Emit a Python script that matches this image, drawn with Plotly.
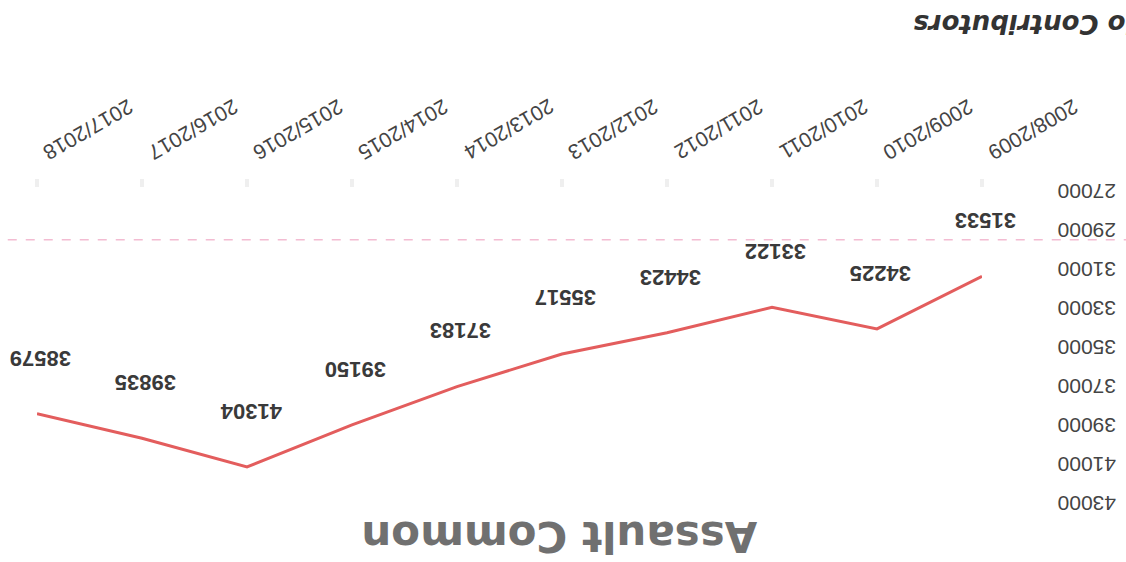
import plotly.graph_objects as go

# ---- data (chart is shown rotated 180 degrees) ----
seasons = ["2008/2009", "2009/2010", "2010/2011", "2011/2012", "2012/2013",
           "2013/2014", "2014/2015", "2015/2016", "2016/2017", "2017/2018"]
contributors = [31533, 34225, 33122, 34423, 35517, 37183, 39150, 41304, 39835, 38579]
y_ticks = [27000, 29000, 31000, 33000, 35000, 37000, 39000, 41000, 43000]
title_text = "Assault Common"
axis_title_text = "No Contributors"

LINE_COLOR = "#e35d5d"
TEXT_COLOR = "#3a3a3a"

fig = go.Figure()
fig.add_trace(go.Scatter(
    x=seasons, y=contributors, mode="lines",
    line=dict(color=LINE_COLOR, width=3),
    hoverinfo="skip", showlegend=False,
))

annotations = []

# data labels (upside down)
for s, v in zip(seasons, contributors):
    annotations.append(dict(
        x=s, y=v, xref="x", yref="y", text=str(v), showarrow=False,
        textangle=180, xanchor="center", yanchor="middle",
        xshift=4, yshift=56,
        font=dict(family="Liberation Sans, Arial", size=22, color=TEXT_COLOR, weight="bold"),
    ))

# category labels (upside down, slanted)
for s in seasons:
    annotations.append(dict(
        x=s, y=1, xref="x", yref="paper", text=s, showarrow=False,
        textangle=150, xanchor="center", yanchor="middle",
        xshift=52, yshift=58,
        font=dict(family="Liberation Sans, Arial", size=21, color="#444444"),
    ))

# value-axis labels (upside down, on the right)
for t in y_ticks:
    annotations.append(dict(
        x=1, y=t, xref="paper", yref="y", text=str(t), showarrow=False,
        textangle=180, xanchor="center", yanchor="middle",
        xshift=105, yshift=-4,
        font=dict(family="Liberation Sans, Arial", size=21, color="#444444"),
    ))

# title (upside down, at the bottom)
annotations.append(dict(
    x=0.553, y=0, xref="paper", yref="paper", text=title_text, showarrow=False,
    textangle=180, xanchor="center", yanchor="middle", yshift=-37,
    font=dict(family="DejaVu Sans", size=42, color="#707070", weight="bold"),
))

# axis title fragment (upside down, cut off at right edge)
annotations.append(dict(
    x=0.925, y=1, xref="paper", yref="paper", text="<i>" + axis_title_text + "</i>",
    showarrow=False, textangle=180, xanchor="left", yanchor="middle", yshift=164,
    font=dict(family="DejaVu Sans", size=26, color="#333333", weight="bold"),
))

fig.update_layout(
    width=1126, height=562,
    margin=dict(l=37, r=144, t=188, b=62),
    paper_bgcolor="white", plot_bgcolor="white",
    xaxis=dict(type="category", side="top", range=[9, 0],
               showgrid=False, zeroline=False, showline=False,
               showticklabels=False, ticks="outside", ticklen=8, tickwidth=4,
               tickcolor="#efefef"),
    yaxis=dict(side="right", range=[43000, 27000], tickvals=y_ticks,
               showgrid=False, zeroline=False, showline=False,
               showticklabels=False),
    annotations=annotations,
    shapes=[dict(type="line", xref="paper", yref="y", x0=-0.05, x1=1.2,
                 y0=29650, y1=29650,
                 line=dict(color="#f3bcd2", width=1.5, dash="dash"))],
)

fig.write_html("out.html")
